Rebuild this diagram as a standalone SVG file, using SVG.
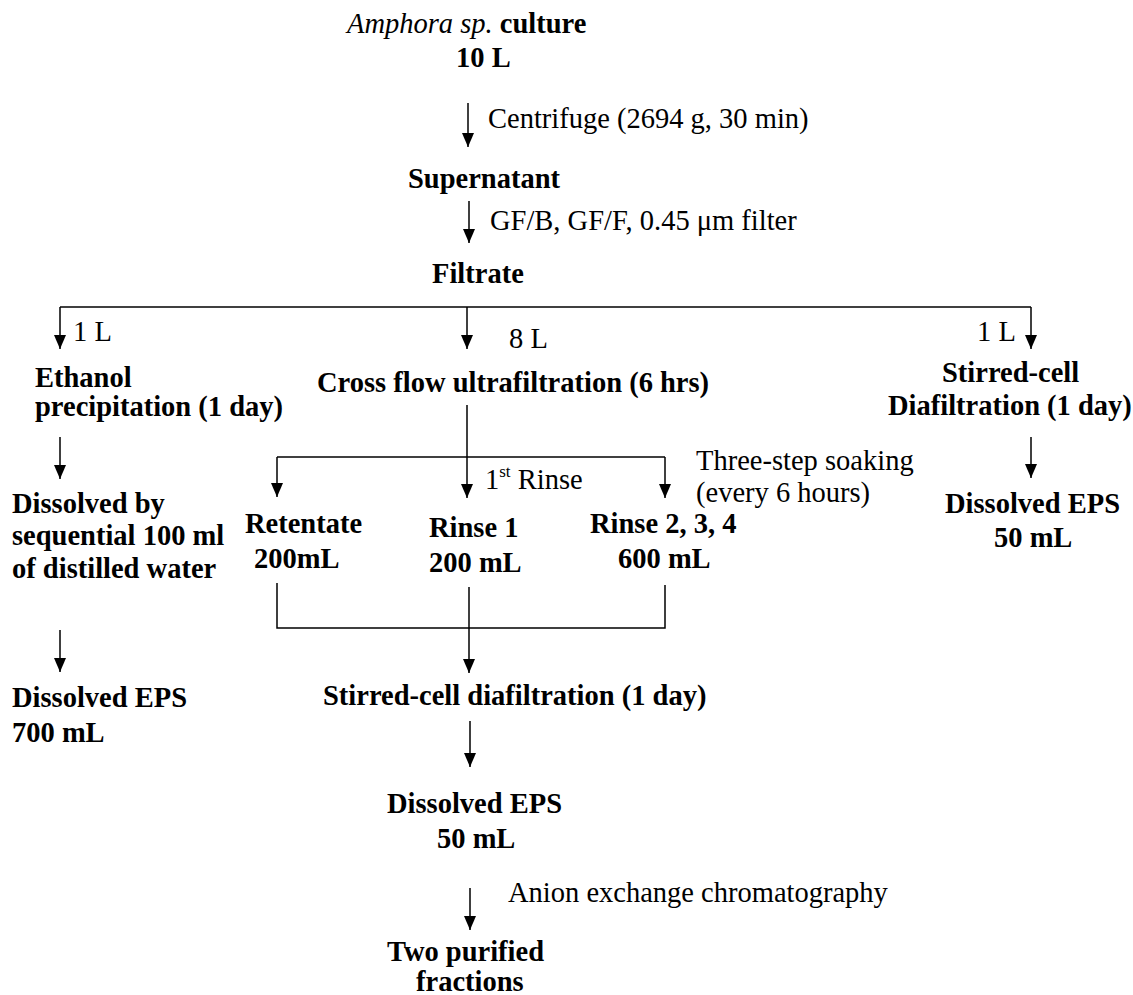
<svg xmlns="http://www.w3.org/2000/svg" width="1133" height="995" viewBox="0 0 1133 995">
<style>
text{font-family:"Liberation Serif","Times New Roman","DejaVu Serif",serif;font-size:28.5px;fill:#000}
.b{font-weight:bold}
.i{font-style:italic}
.ln{stroke:#000;stroke-width:1.5;fill:none}
</style>
<defs>
<marker id="ah" viewBox="0 0 14 12" refX="14" refY="6" markerWidth="14" markerHeight="12" markerUnits="userSpaceOnUse" orient="auto">
<path d="M0,0 L14,6 L0,12 z" fill="#000"/>
</marker>
</defs>
<g id="connectors">
<line class="ln" x1="468" y1="103" x2="468" y2="147" marker-end="url(#ah)"/>
<line class="ln" x1="469" y1="201" x2="469" y2="243" marker-end="url(#ah)"/>
<polyline class="ln" points="60,307 1031,307"/>
<line class="ln" x1="60" y1="307" x2="60" y2="349" marker-end="url(#ah)"/>
<line class="ln" x1="467" y1="307" x2="467" y2="349" marker-end="url(#ah)"/>
<line class="ln" x1="1031" y1="307" x2="1031" y2="349" marker-end="url(#ah)"/>
<line class="ln" x1="60" y1="437" x2="60" y2="479" marker-end="url(#ah)"/>
<line class="ln" x1="467" y1="405" x2="467" y2="498" marker-end="url(#ah)"/>
<polyline class="ln" points="277,457 665,457"/>
<line class="ln" x1="277" y1="457" x2="277" y2="497" marker-end="url(#ah)"/>
<line class="ln" x1="665" y1="457" x2="665" y2="498" marker-end="url(#ah)"/>
<line class="ln" x1="1031" y1="437" x2="1031" y2="478" marker-end="url(#ah)"/>
<polyline class="ln" points="277,583 277,628 665,628 665,585"/>
<line class="ln" x1="469" y1="587" x2="469" y2="673" marker-end="url(#ah)"/>
<line class="ln" x1="60" y1="630" x2="60" y2="672" marker-end="url(#ah)"/>
<line class="ln" x1="470" y1="721" x2="470" y2="767" marker-end="url(#ah)"/>
<line class="ln" x1="470" y1="888" x2="470" y2="930" marker-end="url(#ah)"/>
</g>
<g id="labels">
<text x="488" y="128">Centrifuge (2694 g, 30 min)</text>
<text x="490" y="230">GF/B, GF/F, 0.45 μm filter</text>
<text x="73" y="341">1 L</text>
<text x="509" y="348">8 L</text>
<text x="977" y="341">1 L</text>
<text x="485" y="489">1<tspan font-size="17" dy="-12">st</tspan><tspan dy="12"> Rinse</tspan></text>
<text x="696" y="470">Three-step soaking</text>
<text x="696" y="502">(every 6 hours)</text>
<text x="508" y="902">Anion exchange chromatography</text>
</g>
<g id="n-culture"><text x="347" y="33"><tspan class="i">Amphora sp.</tspan><tspan class="b"> culture</tspan></text><text class="b" x="456" y="67">10 L</text></g>
<g id="n-supernatant"><text class="b" x="408" y="188">Supernatant</text></g>
<g id="n-filtrate"><text class="b" x="432" y="283">Filtrate</text></g>
<g id="n-ethanol"><text class="b" x="35" y="387">Ethanol</text><text class="b" x="35" y="416">precipitation (1 day)</text></g>
<g id="n-crossflow"><text class="b" x="317" y="392">Cross flow ultrafiltration (6 hrs)</text></g>
<g id="n-stirred-right"><text class="b" x="942" y="382">Stirred-cell</text><text class="b" x="888" y="415">Diafiltration (1 day)</text></g>
<g id="n-dissolved-by"><text class="b" x="12" y="513">Dissolved by</text><text class="b" x="12" y="545">sequential 100 ml</text><text class="b" x="12" y="578">of distilled water</text></g>
<g id="n-retentate"><text class="b" x="245" y="533">Retentate</text><text class="b" x="254" y="568">200mL</text></g>
<g id="n-rinse1"><text class="b" x="429" y="537">Rinse 1</text><text class="b" x="429" y="572">200 mL</text></g>
<g id="n-rinse234"><text class="b" x="590" y="533">Rinse 2, 3, 4</text><text class="b" x="618" y="568">600 mL</text></g>
<g id="n-eps-right"><text class="b" x="945" y="513">Dissolved EPS</text><text class="b" x="994" y="547">50 mL</text></g>
<g id="n-eps-left"><text class="b" x="12" y="707">Dissolved EPS</text><text class="b" x="12" y="742">700 mL</text></g>
<g id="n-stirred-mid"><text class="b" x="323" y="705">Stirred-cell diafiltration (1 day)</text></g>
<g id="n-eps-mid"><text class="b" x="387" y="813">Dissolved EPS</text><text class="b" x="437" y="848">50 mL</text></g>
<g id="n-fractions"><text class="b" x="387" y="961">Two purified</text><text class="b" x="416" y="991">fractions</text></g>
</svg>
